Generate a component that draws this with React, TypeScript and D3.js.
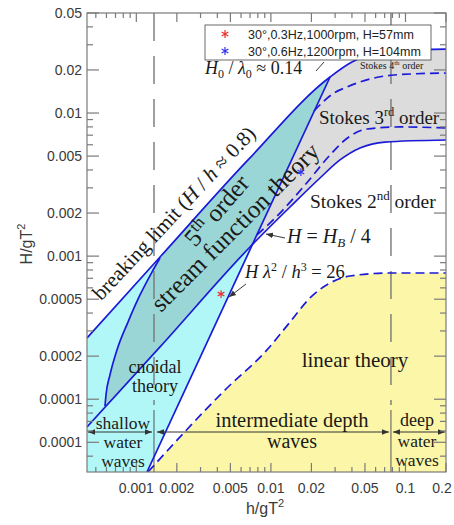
import React from 'react';
import * as d3 from 'd3';

// ---- data ----
const xDomain = [4.3e-4, 0.2];
const yDomain = [3.1e-5, 0.05];

// breaking limit H/h ~ 0.8  ->  H0/L0 ~ 0.14
const breakingX = [4.3e-4, 1.5e-3, 6.76e-3, 0.0275, 0.04, 0.0614, 0.0974, 0.2];
const breakingY = [2.68e-4, 9.86e-4, 4.7e-3, 0.01785, 0.0227, 0.0263, 0.0276, 0.028];

// H = H_B / 4
const quarterX = [4.3e-4, 1.5e-3, 6.99e-3, 0.01386, 0.02315, 0.0326, 0.0459, 0.0704, 0.2];
const quarterY = [6.39e-5, 2.32e-4, 1.158e-3, 2.204e-3, 3.515e-3, 4.7e-3, 5.7e-3, 6.27e-3, 6.48e-3];

// left edge of the stream function region
const streamEdgeX = [5.85e-4, 5.95e-4, 6.37e-4, 7.18e-4, 8.67e-4, 1.065e-3, 1.307e-3, 1.5e-3];
const streamEdgeY = [8.97e-5, 1.07e-4, 1.48e-4, 2.21e-4, 3.46e-4, 5.35e-4, 7.74e-4, 9.7e-4];

// H lambda^2 / h^3 = 26
const ursellX = [1.2e-3, 0.0275];
const ursellY = [3.1e-5, 0.01785];

// Stokes 4th / 3rd
const stokes4X = [0.0209, 0.0294, 0.0367, 0.0459, 0.0821, 0.2];
const stokes4Y = [0.01033, 0.0138, 0.0152, 0.01647, 0.01844, 0.01904];

// Stokes 3rd / 2nd
const stokes3X = [7.88e-3, 0.01168, 0.01791, 0.0275, 0.0355, 0.0517, 0.0909, 0.2];
const stokes3Y = [1.405e-3, 2.0e-3, 3.14e-3, 5.09e-3, 6.48e-3, 7.73e-3, 7.99e-3, 7.86e-3];

// Stokes 2nd / linear
const linearX = [1.22e-3, 4.72e-3, 9.35e-3, 0.01386, 0.01951, 0.0275, 0.0387, 0.0767, 0.2];
const linearY = [3.1e-5, 1.198e-4, 2.21e-4, 3.46e-4, 5.1e-4, 6.49e-4, 7.26e-4, 7.62e-4, 7.62e-4];

const shallowLimit = 1.353e-3;
const deepLimit = 0.078;

const testLabels = ['30°,0.3Hz,1000rpm, H=57mm', '30°,0.6Hz,1200rpm, H=104mm'];
const testX = [4.26e-3, 0.0167];
const testY = [5.43e-4, 3.87e-3];
const testColors = ['#e8322e', '#3434ee'];

const xTickValues = [0.001, 0.002, 0.005, 0.01, 0.02, 0.05, 0.1, 0.2];
const xTickLabels = ['0.001', '0.002', '0.005', '0.01', '0.02', '0.05', '0.1', '0.2'];
const yTickValues = [0.05, 0.02, 0.01, 0.005, 0.002, 0.001, 0.0005, 0.0002, 0.0001, 0.00005];
const yTickLabels = ['0.05', '0.02', '0.01', '0.005', '0.002', '0.001', '0.0005', '0.0002', '0.0001', '0.0001'];

const W = 454, H = 525;
const BLUE = '#1a1ad8';
const SERIF = '"Liberation Serif", "Times New Roman", serif';
const SANS = '"Liberation Sans", Arial, sans-serif';

export default function App() {
  const x = d3.scaleLog().domain(xDomain).range([87, 446]);
  const y = d3.scaleLog().domain(yDomain).range([472, 13]);
  const [X0, X1] = x.range();
  const [Y0, Y1] = y.range();

  const pts = (xs: number[], ys: number[]) => xs.map((v, i) => [x(v), y(ys[i])] as [number, number]);
  const smooth = d3.line<[number, number]>().curve(d3.curveMonotoneX);
  const straight = d3.line<[number, number]>();

  const brk = pts(breakingX, breakingY);
  const qtr = pts(quarterX, quarterY);
  const edge = pts(streamEdgeX, streamEdgeY);
  const urs = pts(ursellX, ursellY);
  const s4 = pts(stokes4X, stokes4Y);
  const s3 = pts(stokes3X, stokes3Y);
  const lin = pts(linearX, linearY);

  // clip shapes
  const last = (a: [number, number][]) => a[a.length - 1];
  const belowBreaking = `${smooth(brk)}L${X1 + 10},${last(brk)[1]}L${X1 + 10},${Y0 + 10}L${X0 - 10},${Y0 + 10}L${X0 - 10},${brk[0][1]}Z`;
  const aboveQuarter = `${smooth(qtr)}L${X1 + 10},${last(qtr)[1]}L${X1 + 10},${Y1 - 10}L${X0 - 10},${Y1 - 10}L${X0 - 10},${qtr[0][1]}Z`;
  const belowLinear = `${smooth(lin)}L${X1 + 10},${last(lin)[1]}L${X1 + 10},${Y0 + 10}L${lin[0][0]},${Y0 + 10}Z`;
  const dxdy = (urs[1][0] - urs[0][0]) / (urs[1][1] - urs[0][1]);
  const ux = (yy: number) => urs[0][0] + (yy - urs[0][1]) * dxdy;
  const leftOfUrsell = `M${X0 - 10},${Y1 - 10}L${ux(Y1 - 10)},${Y1 - 10}L${ux(Y0 + 10)},${Y0 + 10}L${X0 - 10},${Y0 + 10}Z`;
  const rightOfUrsell = `M${ux(Y1 - 10)},${Y1 - 10}L${X1 + 10},${Y1 - 10}L${X1 + 10},${Y0 + 10}L${ux(Y0 + 10)},${Y0 + 10}Z`;
  const rightOfEdge = `${smooth(edge)}L${last(edge)[0]},${Y1 - 10}L${X1 + 10},${Y1 - 10}L${X1 + 10},${Y0 + 10}L${edge[0][0]},${Y0 + 10}Z`;

  const near = (v: number, arr: number[]) => arr.some(a => Math.abs(Math.log10(a) - Math.log10(v)) < 1e-6);
  const xTicks = x.ticks();
  const yTicks = y.ticks();

  const star = d3.symbol(d3.symbolAsterisk, 42)();
  const axisColor = '#7a7a7a';

  const xs = x(shallowLimit), xd = x(deepLimit);
  const arrowY = 432;

  return (
    <svg width={W} height={H} style={{ display: 'block', position: 'absolute', left: 0, top: 0 }}>
      <defs>
        <clipPath id="plot"><rect x={X0} y={Y1} width={X1 - X0} height={Y0 - Y1} /></clipPath>
        <clipPath id="cAboveQ"><path d={aboveQuarter} /></clipPath>
        <clipPath id="cLeftU"><path d={leftOfUrsell} /></clipPath>
        <clipPath id="cRightU"><path d={rightOfUrsell} /></clipPath>
        <clipPath id="cRightE"><path d={rightOfEdge} /></clipPath>
        <marker id="head" viewBox="0 0 10 10" refX="10" refY="5" markerWidth="7" markerHeight="7"
          markerUnits="userSpaceOnUse" orient="auto-start-reverse">
          <path d="M0,1 L10,5 L0,9 z" fill="#333" />
        </marker>
      </defs>
      <rect x={0} y={0} width={W} height={H} fill="#fff" />

      <g clipPath="url(#plot)">
        {/* cnoidal */}
        <g clipPath="url(#cLeftU)">
          <path d={belowBreaking} fill="#b2f7f7" />
        </g>
        {/* stream function */}
        <g clipPath="url(#cLeftU)">
          <g clipPath="url(#cAboveQ)">
            <g clipPath="url(#cRightE)">
              <path d={belowBreaking} fill="#9bd6d6" />
            </g>
          </g>
        </g>
        {/* stokes */}
        <g clipPath="url(#cRightU)">
          <g clipPath="url(#cAboveQ)">
            <path d={belowBreaking} fill="#dcdcdc" />
          </g>
        </g>
        {/* linear */}
        <path d={belowLinear} fill="#fcf7a8" />

        {/* depth limits */}
        {[xs, xd].map((px, i) => (
          <g key={i}>
            <line x1={px} x2={px} y1={Y1} y2={405} stroke="#777" strokeWidth={1.4} strokeDasharray="28,15" />
            <line x1={px} x2={px} y1={410} y2={Y0} stroke="#555" strokeWidth={1} />
          </g>
        ))}

        {/* theory boundaries */}
        <g fill="none" stroke={BLUE} strokeWidth={1.7}>
          <path d={smooth(brk)!} />
          <path d={smooth(qtr)!} />
          <path d={smooth(edge)!} />
          <path d={straight(urs)!} />
          <path d={smooth(s4)!} strokeDasharray="9,5" />
          <path d={smooth(s3)!} strokeDasharray="9,5" />
          <path d={smooth(lin)!} strokeDasharray="9,5" />
        </g>

        {/* depth arrows */}
        <g stroke="#333" strokeWidth={1}>
          <line x1={X0 + 1} x2={xs - 2} y1={arrowY} y2={arrowY} markerStart="url(#head)" markerEnd="url(#head)" />
          <line x1={xs + 3} x2={xd - 2} y1={arrowY} y2={arrowY} markerStart="url(#head)" markerEnd="url(#head)" />
          <line x1={xd + 2} x2={X1 - 1} y1={arrowY} y2={arrowY} markerStart="url(#head)" markerEnd="url(#head)" />
        </g>
      </g>

      {/* annotations */}
      <g fontFamily={SERIF} fill="#1a1a1a">
        <text transform="translate(179,218) rotate(-47)" textAnchor="middle" fontSize={21}>
          breaking limit (<tspan fontStyle="italic">H</tspan>{' / '}<tspan fontStyle="italic">h</tspan>{' ≈ 0.8)'}
        </text>
        <text transform="translate(223,216) rotate(-49)" textAnchor="middle" fontSize={25}>
          5<tspan dy={-9} fontSize={17}>th</tspan><tspan dy={9}> order</tspan>
        </text>
        <text transform="translate(241,233) rotate(-45)" textAnchor="middle" fontSize={25}>
          stream function theory
        </text>
        <text x={155} y={373} textAnchor="middle" fontSize={18}>cnoidal</text>
        <text x={155} y={392} textAnchor="middle" fontSize={18}>theory</text>
        <text x={355} y={367} textAnchor="middle" fontSize={21}>linear theory</text>
        <text x={310} y={208} fontSize={19.5}>
          Stokes 2<tspan dy={-8} fontSize={13}>nd</tspan><tspan dy={8}> order</tspan>
        </text>
        <text x={319} y={124} fontSize={19}>
          Stokes 3<tspan dy={-8} fontSize={12.5}>rd</tspan><tspan dy={8}> order</tspan>
        </text>
        <text x={360} y={69} fontSize={10}>
          Stokes 4<tspan dy={-4} fontSize={7}>th</tspan><tspan dy={4}> order</tspan>
        </text>
        <text x={205} y={74} fontSize={18}>
          <tspan fontStyle="italic">H</tspan><tspan dy={4} fontSize={12}>0</tspan><tspan dy={-4}>{' / '}</tspan>
          <tspan fontStyle="italic">λ</tspan><tspan dy={4} fontSize={12}>0</tspan><tspan dy={-4}>{' ≈ 0.14'}</tspan>
        </text>
        <text x={287} y={243} fontSize={20}>
          <tspan fontStyle="italic">H</tspan>{' = '}<tspan fontStyle="italic">H</tspan>
          <tspan dy={4} fontSize={13} fontStyle="italic">B</tspan><tspan dy={-4}>{' / 4'}</tspan>
        </text>
        <text x={245} y={278} fontSize={18.5}>
          <tspan fontStyle="italic">H λ</tspan><tspan dy={-7} fontSize={12}>2</tspan><tspan dy={7}>{' / '}</tspan>
          <tspan fontStyle="italic">h</tspan><tspan dy={-7} fontSize={12}>3</tspan><tspan dy={7}>{' = 26'}</tspan>
        </text>

        <text x={123} y={429} textAnchor="middle" fontSize={17.5}>shallow</text>
        <text x={123} y={448} textAnchor="middle" fontSize={17.5}>water</text>
        <text x={123} y={467} textAnchor="middle" fontSize={17.5}>waves</text>
        <text x={292} y={427} textAnchor="middle" fontSize={20.5}>intermediate depth</text>
        <text x={292} y={448} textAnchor="middle" fontSize={20}>waves</text>
        <text x={417} y={426} textAnchor="middle" fontSize={18}>deep</text>
        <text x={417} y={447} textAnchor="middle" fontSize={17.5}>water</text>
        <text x={417} y={466} textAnchor="middle" fontSize={17.5}>waves</text>
      </g>
      <g stroke="#222" strokeWidth={0.9}>
        <line x1={285} y1={238} x2={266} y2={234} markerEnd="url(#head)" />
        <line x1={246} y1={284} x2={229} y2={297} markerEnd="url(#head)" />
        <line x1={316} y1={71} x2={324} y2={62} />
      </g>

      {/* measured cases */}
      {testX.map((v, i) => (
        <path key={i} d={star!} transform={`translate(${x(v)},${y(testY[i])})`} fill="none" stroke={testColors[i]} strokeWidth={1.2} />
      ))}

      {/* axes frame and ticks */}
      <g stroke={axisColor} strokeWidth={1.2}>
        <rect x={X0} y={Y1} width={X1 - X0} height={Y0 - Y1} fill="none" />
        {xTicks.map((t, i) => {
          const len = near(t, xTickValues) ? 9 : 5;
          const px = x(t);
          return (
            <g key={i}>
              <line x1={px} x2={px} y1={Y0} y2={Y0 - len} />
              <line x1={px} x2={px} y1={Y1} y2={Y1 + len} />
            </g>
          );
        })}
        {yTicks.map((t, i) => {
          const len = near(t, yTickValues) ? 12 : 6;
          const py = y(t);
          return (
            <g key={i}>
              <line x1={X0} x2={X0 + len} y1={py} y2={py} />
              <line x1={X1} x2={X1 - len} y1={py} y2={py} />
            </g>
          );
        })}
      </g>
      <g fontFamily={SANS} fontSize={14} fill="#3a3a3a">
        {xTickValues.map((t, i) => (
          <text key={i} x={Math.min(x(t), 442)} y={493} textAnchor="middle">{xTickLabels[i]}</text>
        ))}
        {yTickValues.map((t, i) => (
          <text key={i} x={82} y={y(t)} dy="0.35em" textAnchor="end">{yTickLabels[i]}</text>
        ))}
        <text x={265} y={514} textAnchor="middle" fontSize={16}>
          h/gT<tspan dy={-7} fontSize={11}>2</tspan>
        </text>
        <text transform="translate(32,244) rotate(-90)" textAnchor="middle" fontSize={16}>
          H/gT<tspan dy={-7} fontSize={11}>2</tspan>
        </text>
      </g>

      {/* legend */}
      <g>
        <rect x={205} y={25} width={226} height={35} fill="#fff" stroke="#444" strokeWidth={0.8} />
        {testLabels.map((lab, i) => (
          <g key={i}>
            <path d={star!} transform={`translate(225,${34 + i * 17})`} fill="none" stroke={testColors[i]} strokeWidth={1.2} />
            <text x={248} y={39 + i * 17} fontFamily={SANS} fontSize={12.5} fill="#222">{lab}</text>
          </g>
        ))}
      </g>
    </svg>
  );
}
